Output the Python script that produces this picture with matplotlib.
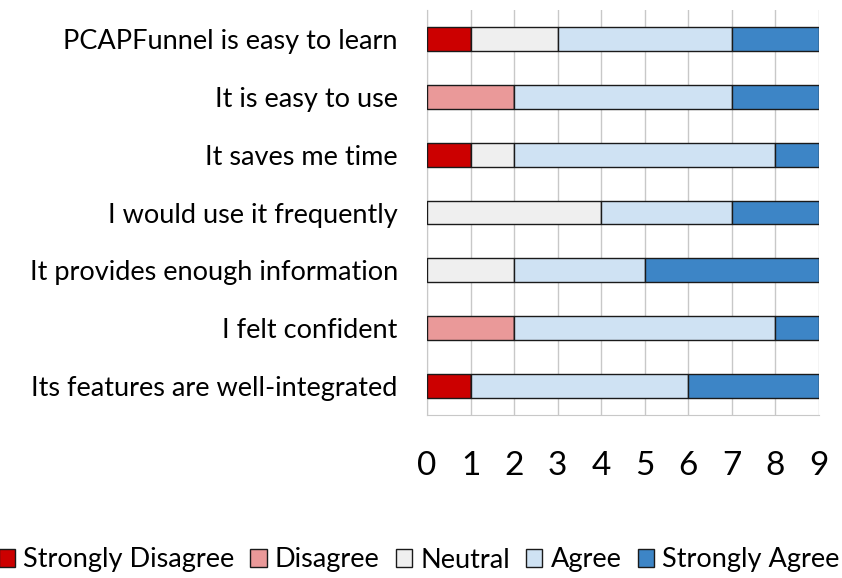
import numpy as np
import matplotlib.pyplot as plt

plt.rcParams['font.family'] = ['Lato', 'DejaVu Sans']

statements = [
    'PCAPFunnel is easy to learn',
    'It is easy to use',
    'It saves me time',
    'I would use it frequently',
    'It provides enough information',
    'I felt confident',
    'Its features are well-integrated',
]
levels = ['Strongly Disagree', 'Disagree', 'Neutral', 'Agree', 'Strongly Agree']
strongly_disagree = [1, 0, 1, 0, 0, 0, 1]
disagree = [0, 2, 0, 0, 0, 2, 0]
neutral = [2, 0, 1, 4, 2, 0, 0]
agree = [4, 5, 6, 3, 3, 6, 5]
strongly_agree = [2, 2, 1, 2, 4, 1, 3]
colors = ['#cc0000', '#ea9999', '#efefef', '#cfe2f3', '#3d85c6']

counts = [strongly_disagree, disagree, neutral, agree, strongly_agree]

fig = plt.figure(figsize=(8.42, 5.78), dpi=100)
ax = fig.add_axes([427 / 842, 1 - 415 / 578, 392 / 842, 405 / 578])

y = np.arange(len(statements))
left = np.zeros(len(statements))
for name, vals, col in zip(levels, counts, colors):
    vals = np.array(vals, dtype=float)
    ax.barh(y, vals, left=left, height=0.41, color=col, edgecolor='#1a1a1a',
            linewidth=1.0, label=name, zorder=3)
    left += vals

ax.set_xlim(0, 9)
ax.set_ylim(len(statements) - 0.5, -0.5)
ax.set_xticks(range(10))
ax.set_yticks(y)
ax.set_yticklabels(statements, fontsize=19.5)
ax.tick_params(axis='x', labelsize=24, length=0, pad=26)
ax.tick_params(axis='y', length=0, pad=21)
ax.grid(axis='x', color='#c8c8c8', linewidth=1, zorder=0)
for side in ['top', 'right']:
    ax.spines[side].set_visible(False)
ax.spines['left'].set_color('#c8c8c8')
ax.spines['bottom'].set_color('#c8c8c8')

ax.legend(loc='center', bbox_to_anchor=(419 / 842, 1 - 560 / 578),
          bbox_transform=fig.transFigure, ncol=5, frameon=False, fontsize=19.5,
          handlelength=0.6, handleheight=0.6, handletextpad=0.3,
          columnspacing=0.6, borderpad=0)

fig.savefig('out.png', dpi=100)
